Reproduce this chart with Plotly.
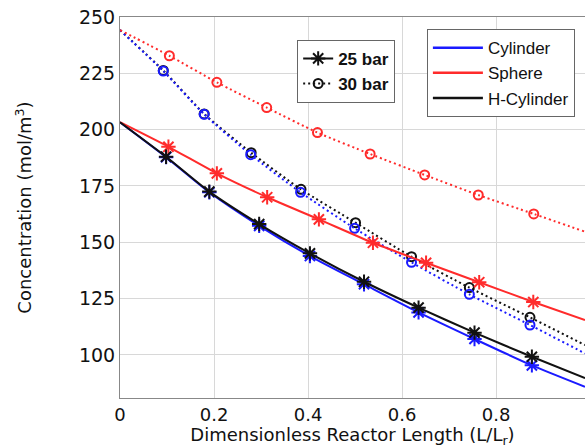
import plotly.graph_objects as go

# ---- data ----
x_cyl25 = [0, 0.098, 0.190, 0.296, 0.404, 0.519, 0.635, 0.754, 0.876, 0.989]
y_cyl25 = [203.3, 187.8, 172.2, 157.3, 143.9, 131.4, 118.9, 107.1, 95.4, 85.9]
x_hcyl25 = [0, 0.098, 0.190, 0.296, 0.404, 0.519, 0.635, 0.754, 0.876, 0.989]
y_hcyl25 = [203.3, 188.0, 172.5, 158.1, 145.1, 132.5, 121.0, 109.9, 99.2, 89.7]
x_sph25 = [0, 0.103, 0.206, 0.313, 0.423, 0.538, 0.651, 0.764, 0.879, 0.989]
y_sph25 = [203.3, 192.4, 180.6, 170.0, 160.2, 149.8, 140.9, 132.3, 123.5, 115.5]

x_cyl30 = [0, 0.092, 0.179, 0.278, 0.384, 0.499, 0.620, 0.743, 0.872, 0.989]
y_cyl30 = [244.2, 226.0, 206.8, 188.9, 172.2, 156.2, 141.1, 126.9, 113.3, 100.7]
x_hcyl30 = [0, 0.092, 0.179, 0.279, 0.385, 0.501, 0.620, 0.743, 0.872, 0.989]
y_hcyl30 = [244.2, 226.3, 207.0, 189.8, 173.5, 158.7, 143.6, 129.9, 116.7, 104.4]
x_sph30 = [0, 0.105, 0.206, 0.312, 0.420, 0.532, 0.648, 0.762, 0.880, 0.989]
y_sph30 = [244.2, 232.8, 221.0, 209.8, 198.7, 189.2, 179.9, 171.0, 162.6, 154.7]

x_ticks = [0, 0.2, 0.4, 0.6, 0.8]
x_ticklabels = ["0", "0.2", "0.4", "0.6", "0.8"]
y_ticks = [100, 125, 150, 175, 200, 225, 250]

pressures = ["25 bar", "30 bar"]
geometries = ["Cylinder", "Sphere", "H-Cylinder"]

BLUE = "#1a1aff"
RED = "#ff2b2b"
BLACK = "#111111"
DOT = "2px,3px"

# draw order: 30-bar black under blue, 25-bar black over blue
series = [
    (x_hcyl30, y_hcyl30, BLACK, DOT, "circle-open", 9),
    (x_cyl30, y_cyl30, BLUE, DOT, "circle-open", 9),
    (x_sph30, y_sph30, RED, DOT, "circle-open", 9),
    (x_cyl25, y_cyl25, BLUE, "solid", "asterisk-open", 12),
    (x_sph25, y_sph25, RED, "solid", "asterisk-open", 12),
    (x_hcyl25, y_hcyl25, BLACK, "solid", "asterisk-open", 12),
]

fig = go.Figure()
for xs, ys, col, dash, sym, sz in series:
    fig.add_trace(go.Scatter(
        x=xs, y=ys, mode="lines",
        line=dict(color=col, width=2, dash=dash, shape="spline", smoothing=0.6),
        showlegend=False, hoverinfo="skip"))
    fig.add_trace(go.Scatter(
        x=xs[1:-1], y=ys[1:-1], mode="markers",
        marker=dict(symbol=sym, size=sz, color=col, line=dict(color=col, width=2)),
        showlegend=False))

# legend 1: pressures
fig.add_trace(go.Scatter(x=[None], y=[None], mode="lines+markers", name=pressures[0],
                         line=dict(color=BLACK, width=2),
                         marker=dict(symbol="asterisk-open", size=12, color=BLACK,
                                     line=dict(color=BLACK, width=2)),
                         legend="legend"))
fig.add_trace(go.Scatter(x=[None], y=[None], mode="lines+markers", name=pressures[1],
                         line=dict(color=BLACK, width=2, dash=DOT),
                         marker=dict(symbol="circle-open", size=9, color=BLACK,
                                     line=dict(color=BLACK, width=2)),
                         legend="legend"))
# legend 2: geometries
for name, col in zip(geometries, [BLUE, RED, BLACK]):
    fig.add_trace(go.Scatter(x=[None], y=[None], mode="lines", name=name,
                             line=dict(color=col, width=2.5), legend="legend2"))

fig.update_layout(
    width=585, height=448,
    margin=dict(l=120, r=0, t=17, b=50),
    paper_bgcolor="white", plot_bgcolor="white",
    font=dict(family="DejaVu Sans", color="#111"),
    legend=dict(x=0.381, y=0.94, xanchor="left", yanchor="top",
                bgcolor="white", bordercolor="#666", borderwidth=1,
                font=dict(family="Liberation Sans", size=17, color="#111", weight="bold"),
                itemwidth=30),
    legend2=dict(x=0.660, y=0.968, xanchor="left", yanchor="top",
                 bgcolor="white", bordercolor="#666", borderwidth=1,
                 font=dict(family="Liberation Sans", size=17, color="#111"),
                 itemwidth=50),
    xaxis=dict(range=[0, 0.989], tickvals=x_ticks, ticktext=x_ticklabels,
               showgrid=True, gridcolor="#d8d8d8", gridwidth=1,
               showline=True, linecolor="#888", linewidth=1, mirror=True,
               zeroline=False, ticks="", tickfont=dict(size=18, family="DejaVu Sans"),
               title=dict(text="Dimensionless Reactor Length (L/L<sub>r</sub>)",
                          font=dict(size=18, family="DejaVu Sans"), standoff=2)),
    yaxis=dict(range=[80.9, 250], tickvals=y_ticks,
               showgrid=True, gridcolor="#d8d8d8", gridwidth=1,
               showline=True, linecolor="#888", linewidth=1, mirror=True,
               zeroline=False, ticks="", tickfont=dict(size=19, family="DejaVu Sans"),
               title=dict(text="Concentration (mol/m<sup>3</sup>)",
                          font=dict(size=18, family="DejaVu Sans"), standoff=42)),
)

fig.write_html("out.html")
